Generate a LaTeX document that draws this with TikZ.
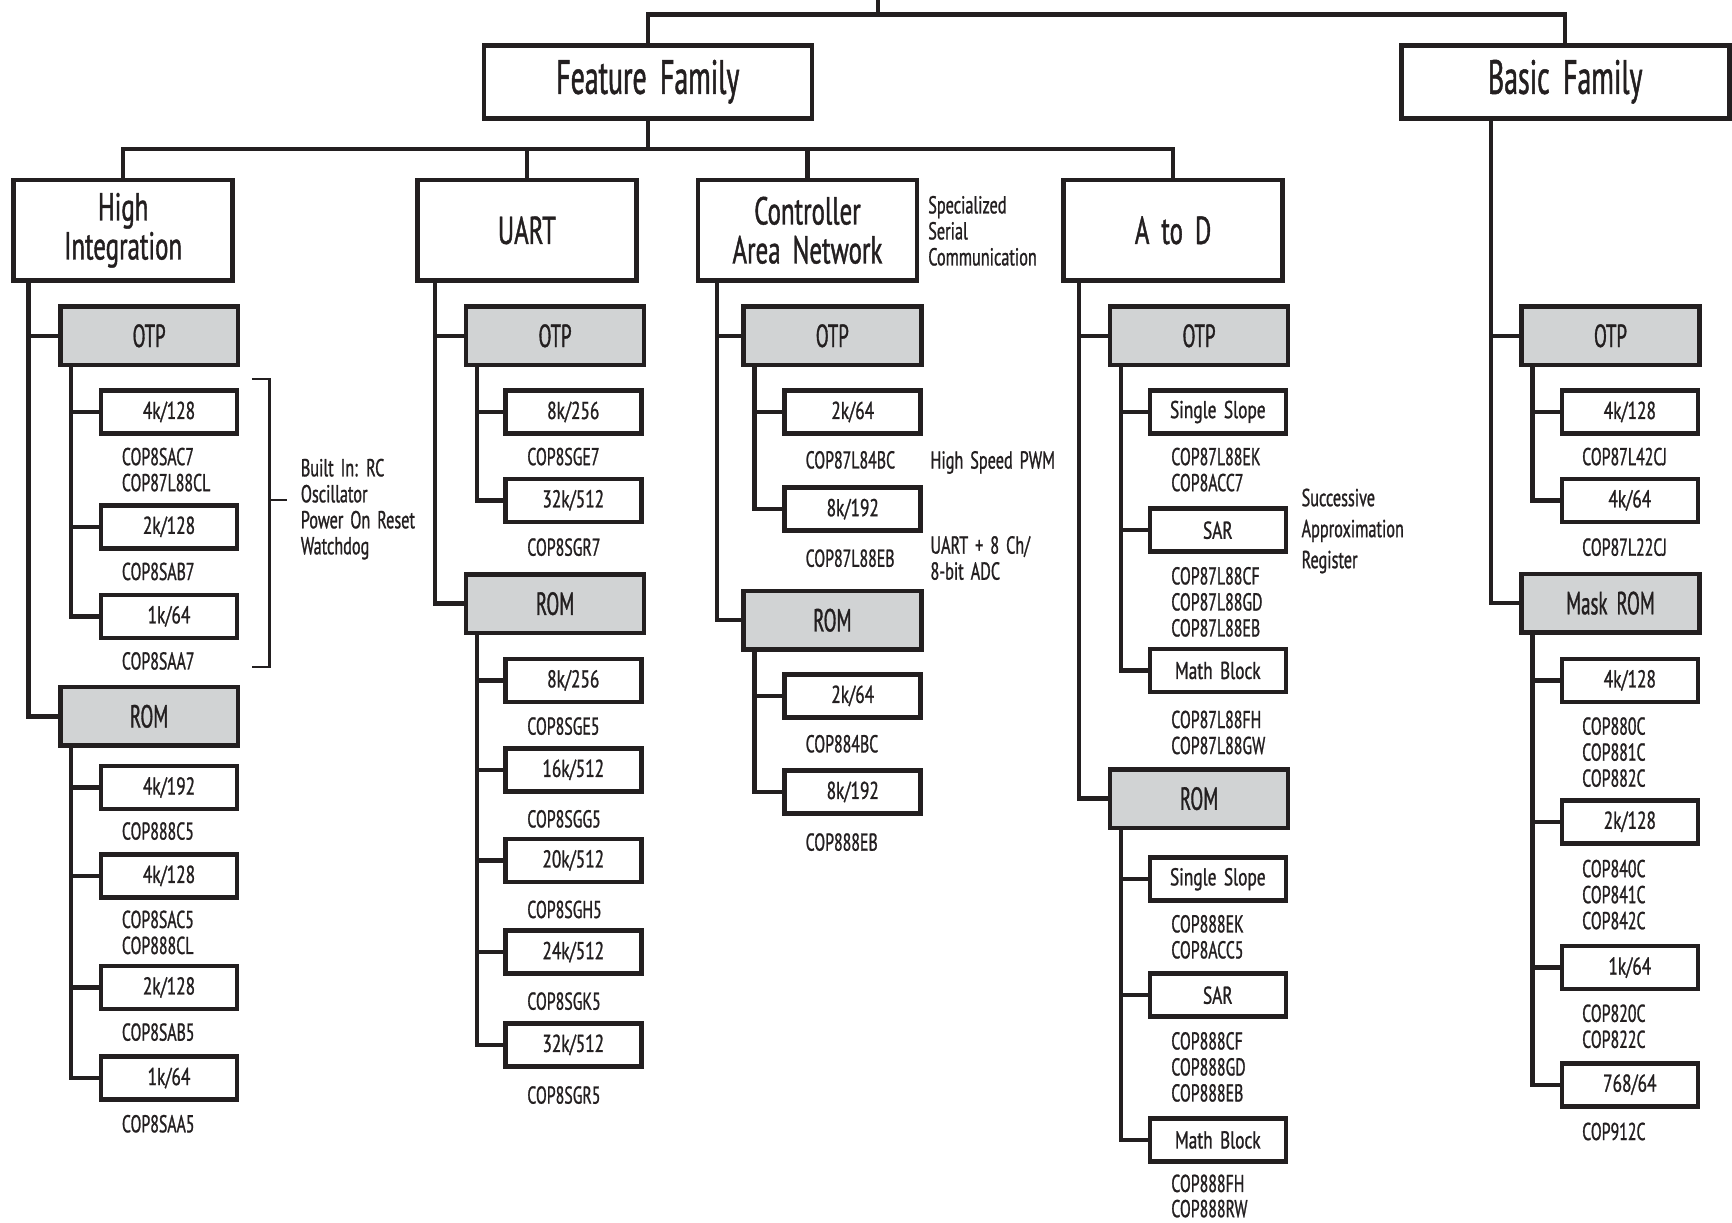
\documentclass[tikz,border=0pt]{standalone}
\usepackage{fontspec}
\setmainfont{PT Sans}
\newfontfamily\gsF[FakeStretch=0.58,WordSpace=1.8,FakeBold=1]{PT Sans}
\newfontfamily\gsG[FakeStretch=0.64,WordSpace=1.8,FakeBold=1]{PT Sans}
\newfontfamily\gsC[FakeStretch=0.59,WordSpace=1.8,FakeBold=1]{PT Sans}
\newfontfamily\gsL[FakeStretch=0.71,WordSpace=1.6,FakeBold=1]{PT Sans}
\newfontfamily\gsS[FakeStretch=0.65,WordSpace=1.6,FakeBold=1]{PT Sans}
\newfontfamily\gsN[FakeStretch=0.66,WordSpace=1.6,FakeBold=1]{PT Sans}
\definecolor{ink}{RGB}{35,31,32}
\definecolor{boxgray}{RGB}{209,211,212}
\tikzset{
  conn/.style={draw=ink, line width=2.2pt},
  bx/.style={draw=ink, line width=2.3pt, fill=white, inner sep=0pt, text=ink, align=center},
  fambox/.style={bx, minimum width=164pt, minimum height=36.5pt, font=\gsF\fontsize{24}{26}\selectfont},
  grpbox/.style={bx, minimum width=109.4pt, minimum height=50.3pt, font=\gsG\fontsize{19.5}{19.5}\selectfont},
  catbox/.style={bx, fill=boxgray, minimum width=88.9pt, minimum height=29.3pt, font=\gsC\fontsize{16}{18}\selectfont},
  leafbox/.style={bx, minimum width=68pt, minimum height=21.5pt, font=\gsL\fontsize{12.2}{14}\selectfont},
  lab/.style={anchor=north west, inner sep=0pt, align=left, text=ink, font=\gsS\fontsize{12.2}{13}\selectfont},
  note/.style={anchor=north west, inner sep=0pt, align=left, text=ink, font=\gsN\fontsize{12.3}{13}\selectfont},
  bracket/.style={draw=ink, line width=1.1pt}
}
\begin{document}
\begin{tikzpicture}[x=0.5523pt, y=-0.5523pt]
\useasboundingbox (0,0) rectangle (1568,1107);

% ---------- top level ----------
\coordinate (root) at (795,0);
\coordinate (rbus) at (795,13);
\node[fambox] (ff) at (586.5,74) {Feature Family};
\node[fambox] (bf) at (1417,74) {Basic Family};
\draw[conn] (root) -- (rbus);
\draw[conn] (ff.north) |- (rbus) -| (bf.north);

% ---------- feature groups ----------
\node[grpbox] (hi) at (111.5,208.5) {High\\Integration};
\node[grpbox] (ua) at (477,208.5) {UART};
\node[grpbox] (cn) at (731,208.5) {Controller\\Area Network};
\node[grpbox] (ad) at (1062,208.5) {A to D};
\coordinate (fbus) at (586.5,135);
\draw[conn] (ff.south) -- (fbus);
\draw[conn] (hi.north) |- (fbus) -| (ad.north);
\draw[conn] (ua.north) -- (ua.north |- fbus);
\draw[conn] (cn.north) -- (cn.north |- fbus);

% ---------- High Integration ----------
\node[catbox] (hiO) at (135,304) {OTP};
\node[catbox] (hiR) at (135,648.5) {ROM};
\draw[conn] ([xshift=8.6pt]hi.south west) |- (hiO.west);
\draw[conn] ([xshift=8.6pt]hi.south west) |- (hiR.west);
\node[leafbox] (hiO1) at (153,373) {4k/128};
\node[leafbox] (hiO2) at (153,477) {2k/128};
\node[leafbox] (hiO3) at (153,558) {1k/64};
\foreach \n in {hiO1,hiO2,hiO3} \draw[conn] ([xshift=6.6pt]hiO.south west) |- (\n.west);
\node[leafbox] (hiR1) at (153,713) {4k/192};
\node[leafbox] (hiR2) at (153,793) {4k/128};
\node[leafbox] (hiR3) at (153,894) {2k/128};
\node[leafbox] (hiR4) at (153,976) {1k/64};
\foreach \n in {hiR1,hiR2,hiR3,hiR4} \draw[conn] ([xshift=6.6pt]hiR.south west) |- (\n.west);
\node[lab] (lhi1) at (110,405) {COP8SAC7\\COP87L88CL};
\node[lab] (lhi2) at (110,509) {COP8SAB7};
\node[lab] (lhi3) at (110,590) {COP8SAA7};
\node[lab] (lhi4) at (110,744) {COP888C5};
\node[lab] (lhi5) at (110,824) {COP8SAC5\\COP888CL};
\node[lab] (lhi6) at (110,926) {COP8SAB5};
\node[lab] (lhi7) at (110,1009) {COP8SAA5};
\draw[bracket] (228,343) -- (244,343) -- (244,604) -- (228,604);
\draw[bracket] (244,453) -- (260,453);
\node[note] (nbuilt) at (272,415) {Built In: RC\\Oscillator\\Power On Reset\\Watchdog};

% ---------- UART ----------
\node[catbox] (uaO) at (502.5,304) {OTP};
\node[catbox] (uaR) at (502.5,546.5) {ROM};
\draw[conn] ([xshift=9.9pt]ua.south west) |- (uaO.west);
\draw[conn] ([xshift=9.9pt]ua.south west) |- (uaR.west);
\node[leafbox] (uaO1) at (519,373) {8k/256};
\node[leafbox] (uaO2) at (519,453) {32k/512};
\foreach \n in {uaO1,uaO2} \draw[conn] ([xshift=6.6pt]uaO.south west) |- (\n.west);
\node[leafbox] (uaR1) at (519,616) {8k/256};
\node[leafbox] (uaR2) at (519,697) {16k/512};
\node[leafbox] (uaR3) at (519,779) {20k/512};
\node[leafbox] (uaR4) at (519,862) {24k/512};
\node[leafbox] (uaR5) at (519,946) {32k/512};
\foreach \n in {uaR1,uaR2,uaR3,uaR4,uaR5} \draw[conn] ([xshift=6.6pt]uaR.south west) |- (\n.west);
\node[lab] (lua1) at (477,405) {COP8SGE7};
\node[lab] (lua2) at (477,487) {COP8SGR7};
\node[lab] (lua3) at (477,649) {COP8SGE5};
\node[lab] (lua4) at (477,733) {COP8SGG5};
\node[lab] (lua5) at (477,815) {COP8SGH5};
\node[lab] (lua6) at (477,898) {COP8SGK5};
\node[lab] (lua7) at (477,983) {COP8SGR5};

% ---------- CAN ----------
\node[catbox] (cnO) at (753.5,304) {OTP};
\node[catbox] (cnR) at (753.5,561.5) {ROM};
\draw[conn] ([xshift=10.5pt]cn.south west) |- (cnO.west);
\draw[conn] ([xshift=10.5pt]cn.south west) |- (cnR.west);
\node[leafbox] (cnO1) at (772,373) {2k/64};
\node[leafbox] (cnO2) at (772,461) {8k/192};
\foreach \n in {cnO1,cnO2} \draw[conn] ([xshift=6.6pt]cnO.south west) |- (\n.west);
\node[leafbox] (cnR1) at (772,630) {2k/64};
\node[leafbox] (cnR2) at (772,717) {8k/192};
\foreach \n in {cnR1,cnR2} \draw[conn] ([xshift=6.6pt]cnR.south west) |- (\n.west);
\node[lab] (lcn1) at (729,408) {COP87L84BC};
\node[lab] (lcn2) at (729,497) {COP87L88EB};
\node[lab] (lcn3) at (729,665) {COP884BC};
\node[lab] (lcn4) at (729,754) {COP888EB};
\node[note] (nspec) at (840,177) {Specialized\\Serial\\Communication};
\node[note] (npwm) at (842,408) {High Speed PWM};
\node[note] (nuart) at (842,485) {UART + 8 Ch/\\8-bit ADC};

% ---------- A to D ----------
\node[catbox] (adO) at (1085.5,304) {OTP};
\node[catbox] (adR) at (1085.5,723) {ROM};
\draw[conn] ([xshift=8.8pt]ad.south west) |- (adO.west);
\draw[conn] ([xshift=8.8pt]ad.south west) |- (adR.west);
\node[leafbox] (adO1) at (1102.5,373) {Single Slope};
\node[leafbox] (adO2) at (1102.5,480) {SAR};
\node[leafbox] (adO3) at (1102.5,607) {Math Block};
\foreach \n in {adO1,adO2,adO3} \draw[conn] ([xshift=6.6pt]adO.south west) |- (\n.west);
\node[leafbox] (adR1) at (1102.5,796) {Single Slope};
\node[leafbox] (adR2) at (1102.5,901) {SAR};
\node[leafbox] (adR3) at (1102.5,1032) {Math Block};
\foreach \n in {adR1,adR2,adR3} \draw[conn] ([xshift=6.6pt]adR.south west) |- (\n.west);
\node[lab] (lad1) at (1060,405) {COP87L88EK\\COP8ACC7};
\node[lab] (lad2) at (1060,513) {COP87L88CF\\COP87L88GD\\COP87L88EB};
\node[lab] (lad3) at (1060,643) {COP87L88FH\\COP87L88GW};
\node[lab] (lad4) at (1060,828) {COP888EK\\COP8ACC5};
\node[lab] (lad5) at (1060,934) {COP888CF\\COP888GD\\COP888EB};
\node[lab, font=\gsS\fontsize{12.2}{12.6}\selectfont] (lad6) at (1060,1063) {COP888FH\\COP888RW};
\node[note, font=\gsN\fontsize{12.3}{15.5}\selectfont] (nsar) at (1178,442) {Successive\\Approximation\\Register};

% ---------- Basic Family ----------
\node[catbox] (bfO) at (1458,304) {OTP};
\node[catbox] (bfR) at (1458,546) {Mask ROM};
\draw[conn] ([xshift=46pt]bf.south west) |- (bfO.west);
\draw[conn] ([xshift=46pt]bf.south west) |- (bfR.west);
\node[leafbox] (bfO1) at (1475.5,373) {4k/128};
\node[leafbox] (bfO2) at (1475.5,453) {4k/64};
\foreach \n in {bfO1,bfO2} \draw[conn] ([xshift=6.6pt]bfO.south west) |- (\n.west);
\node[leafbox] (bfR1) at (1475.5,616) {4k/128};
\node[leafbox] (bfR2) at (1475.5,744) {2k/128};
\node[leafbox] (bfR3) at (1475.5,876) {1k/64};
\node[leafbox] (bfR4) at (1475.5,982) {768/64};
\foreach \n in {bfR1,bfR2,bfR3,bfR4} \draw[conn] ([xshift=6.6pt]bfR.south west) |- (\n.west);
\node[lab] (lbf1) at (1432,405) {COP87L42CJ};
\node[lab] (lbf2) at (1432,487) {COP87L22CJ};
\node[lab] (lbf3) at (1432,649) {COP880C\\COP881C\\COP882C};
\node[lab] (lbf4) at (1432,778) {COP840C\\COP841C\\COP842C};
\node[lab] (lbf5) at (1432,909) {COP820C\\COP822C};
\node[lab] (lbf6) at (1432,1016) {COP912C};
\end{tikzpicture}
\end{document}
